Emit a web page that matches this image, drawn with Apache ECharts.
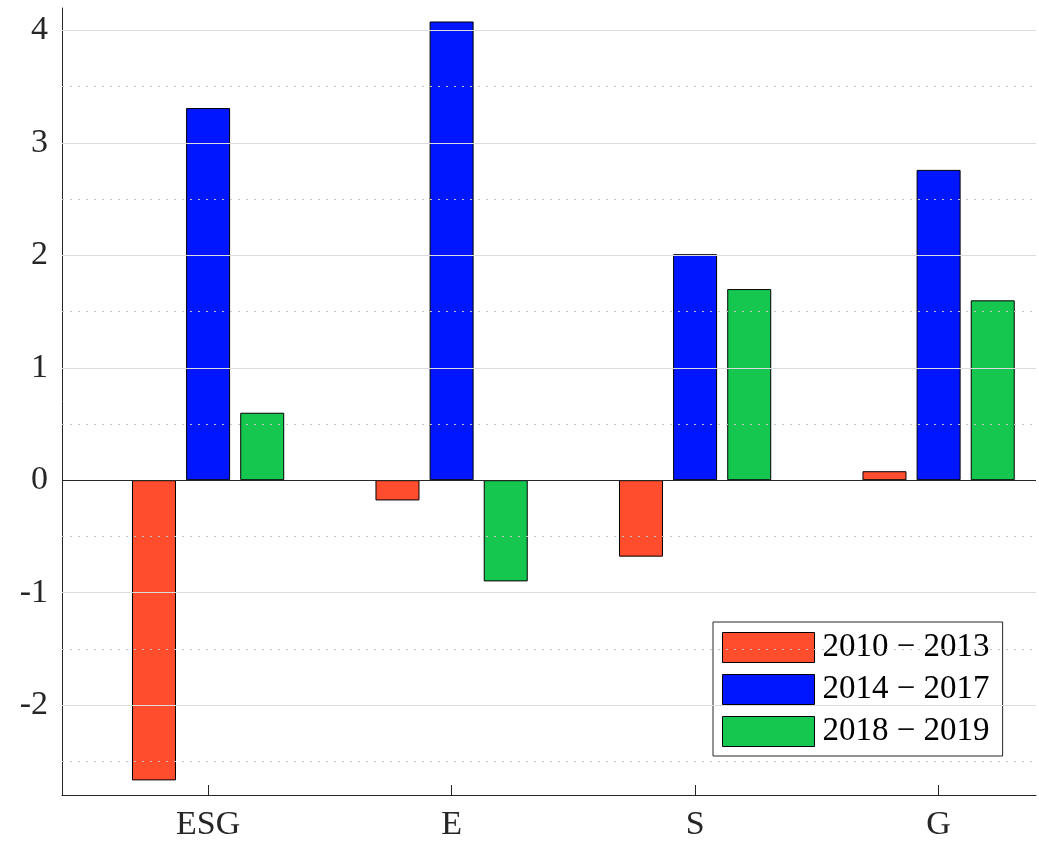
<!DOCTYPE html>
<html>
<head>
<meta charset="utf-8">
<script src="https://cdn.jsdelivr.net/npm/echarts@6/dist/echarts.min.js"></script>
<style>
  html, body { margin: 0; padding: 0; background: #fff; }
  #chart { width: 1039px; height: 842px; }
</style>
</head>
<body>
<div id="chart"></div>
<script>
const categories = ["ESG", "E", "S", "G"];
const periods = ["2010 − 2013", "2014 − 2017", "2018 − 2019"];
const values2010 = [-2.67, -0.18, -0.68, 0.08];
const values2014 = [3.31, 4.08, 2.01, 2.76];
const values2018 = [0.60, -0.90, 1.70, 1.60];
const yTicks = [-2, -1, 0, 1, 2, 3, 4];
const yMinorTicks = [-2.5, -1.5, -0.5, 0.5, 1.5, 2.5, 3.5];
const xTicks = [1, 2, 3, 4];

const colors = ["#FF4D2E", "#0016FF", "#16C74F"];
const axisColor = "#262626";
const fontFamily = "'Liberation Serif', 'DejaVu Serif', serif";

const chart = echarts.init(document.getElementById("chart"));

const toPoints = (vals) => vals.map((v, i) => [xTicks[i], v]);

const barSeries = [values2010, values2014, values2018].map((vals, k) => ({
  name: periods[k],
  type: "bar",
  barWidth: 44,
  barGap: "23%",
  z: 3,
  itemStyle: { color: colors[k], borderColor: "#000", borderWidth: 1 },
  data: toPoints(vals)
}));

const option = {
  animation: false,
  backgroundColor: "#fff",
  grid: { left: 62, right: 3, top: 8, bottom: 47 },
  xAxis: {
    type: "value",
    min: 0.4,
    max: 4.4,
    axisLine: { onZero: false, lineStyle: { color: axisColor, width: 1 } },
    axisTick: { inside: true, length: 10, customValues: xTicks, lineStyle: { color: axisColor } },
    axisLabel: {
      customValues: xTicks,
      formatter: (v) => categories[Math.round(v) - 1],
      fontFamily: fontFamily,
      fontSize: 34,
      color: axisColor,
      margin: 13
    },
    splitLine: { show: false }
  },
  yAxis: {
    type: "value",
    min: -2.8,
    max: 4.2,
    axisLine: { show: true, lineStyle: { color: axisColor, width: 1 } },
    axisTick: { inside: true, length: 10, customValues: yTicks, lineStyle: { color: axisColor } },
    axisLabel: {
      customValues: yTicks,
      fontFamily: fontFamily,
      fontSize: 34,
      color: axisColor,
      margin: 14
    },
    splitLine: { show: false }
  },
  legend: {
    data: periods,
    orient: "vertical",
    left: 713,
    top: 622,
    icon: "rect",
    itemWidth: 92,
    itemHeight: 30,
    itemGap: 9,
    padding: [9, 13, 8, 9],
    borderColor: axisColor,
    borderWidth: 1,
    backgroundColor: "#fff",
    itemStyle: { borderColor: "#000", borderWidth: 1 },
    textStyle: { fontFamily: fontFamily, fontSize: 33, color: "#000", padding: [0, 0, 0, 3] }
  },
  series: [
    {
      name: "grid",
      type: "line",
      data: [],
      z: 1,
      silent: true,
      markLine: {
        silent: true,
        symbol: "none",
        label: { show: false },
        animation: false,
        data: yTicks.map((v) => ({ yAxis: v, lineStyle: { color: "#dcdcdc", type: "solid", width: 1 } }))
          .concat(yMinorTicks.map((v) => ({ yAxis: v, lineStyle: { color: "#c4c4c4", type: [2, 6], width: 1 } })))
      }
    },
    ...barSeries,
    {
      name: "baseline",
      type: "line",
      data: [],
      z: 5,
      silent: true,
      markLine: {
        silent: true,
        symbol: "none",
        label: { show: false },
        animation: false,
        data: [{ yAxis: 0, lineStyle: { color: axisColor, type: "solid", width: 1 } }]
      }
    }
  ]
};

chart.setOption(option);
</script>
</body>
</html>
